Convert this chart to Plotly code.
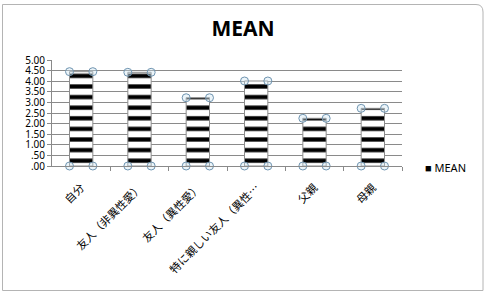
import plotly.graph_objects as go

# Mean scores per target person
categories = ["自分", "友人（非異性愛）", "友人（異性愛）", "特に親しい友人（異性愛）", "父親", "母親"]
tick_labels = ["自分", "友人（非異性愛）", "友人（異性愛）", "特に親しい友人（異性…", "父親", "母親"]
mean_values = [4.45, 4.42, 3.22, 4.01, 2.25, 2.72]
y_ticks = [0, 0.5, 1.0, 1.5, 2.0, 2.5, 3.0, 3.5, 4.0, 4.5, 5.0]
y_tick_labels = [".00", ".50", "1.00", "1.50", "2.00", "2.50", "3.00", "3.50", "4.00", "4.50", "5.00"]
series_name = "MEAN"

BAR_W = 0.4
xs = list(range(len(categories)))

fig = go.Figure()

fig.add_trace(go.Bar(
    x=xs, y=mean_values, width=BAR_W, name=series_name, showlegend=False,
    marker=dict(
        color="white",
        line=dict(color="#8c8c8c", width=1),
        pattern=dict(shape="-", fgcolor="black", bgcolor="white",
                     size=10.6, solidity=0.4, fillmode="replace"),
    ),
    hovertext=categories,
))

# selection handles at the bar corners
hx, hy = [], []
for x, v in zip(xs, mean_values):
    for dx in (-BAR_W / 2, BAR_W / 2):
        hx += [x + dx, x + dx]
        hy += [v, 0]
fig.add_trace(go.Scatter(
    x=hx, y=hy, mode="markers", showlegend=False, hoverinfo="skip",
    cliponaxis=False,
    marker=dict(symbol="circle", size=8, color="rgba(200,225,240,0.35)",
                line=dict(color="#6f94b0", width=1)),
))

L, R, T, B = 52, 87, 60, 129
PW, PH = 489 - L - R, 295 - T - B


def px(x):
    return (x - L) / PW


def py(y):
    return (295 - B - y) / PH


frame = (f"M {px(2.5)},{py(4.5)} L {px(476)},{py(4.5)} "
         f"Q {px(483)},{py(4.5)} {px(483)},{py(12)} "
         f"L {px(483)},{py(290.5)} L {px(2.5)},{py(290.5)} Z")

fig.update_layout(
    width=489, height=295, autosize=False,
    margin=dict(l=L, r=R, t=T, b=B, autoexpand=False),
    paper_bgcolor="white", plot_bgcolor="white",
    title=dict(text="<b>MEAN</b>", x=243 / 489, xanchor="center",
               y=1 - 29 / 295, yanchor="middle",
               font=dict(family="Noto Sans", size=21, color="black")),
    font=dict(family="Noto Sans CJK JP, Noto Sans", size=11, color="black"),
    showlegend=False,
    shapes=[
        dict(type="path", xref="paper", yref="paper", path=frame,
             line=dict(color="#b4b4b4", width=1), fillcolor="rgba(0,0,0,0)", layer="below"),
    ],
    annotations=[
        # series key
        dict(xref="paper", yref="paper", x=px(423), y=py(167),
             xanchor="left", yanchor="middle", showarrow=False,
             text=f"<span style='font-size:11px'>■</span> {series_name}",
             font=dict(family="Noto Sans", size=11, color="black")),
    ],
)

fig.update_xaxes(
    range=[-0.5, len(categories) - 0.5],
    tickmode="array", tickvals=xs, ticktext=tick_labels,
    tickangle=-45, showgrid=False, zeroline=False,
    showline=True, linecolor="#8a8a8a", ticks="", tickfont=dict(size=11),
    ticklabelstandoff=10,
    minor=dict(tickmode="array", tickvals=[x + 0.5 for x in xs],
               ticks="outside", ticklen=4, tickcolor="#8a8a8a", showgrid=False),
)
fig.update_yaxes(
    range=[0, 5], tickmode="array", tickvals=y_ticks, ticktext=y_tick_labels,
    showgrid=True, gridcolor="#8a8a8a", gridwidth=1, zeroline=False,
    showline=True, linecolor="#8a8a8a", ticks="outside", ticklen=4,
    tickcolor="#8a8a8a", tickfont=dict(size=10, family="Noto Sans"),
)

fig.write_html("out.html")
